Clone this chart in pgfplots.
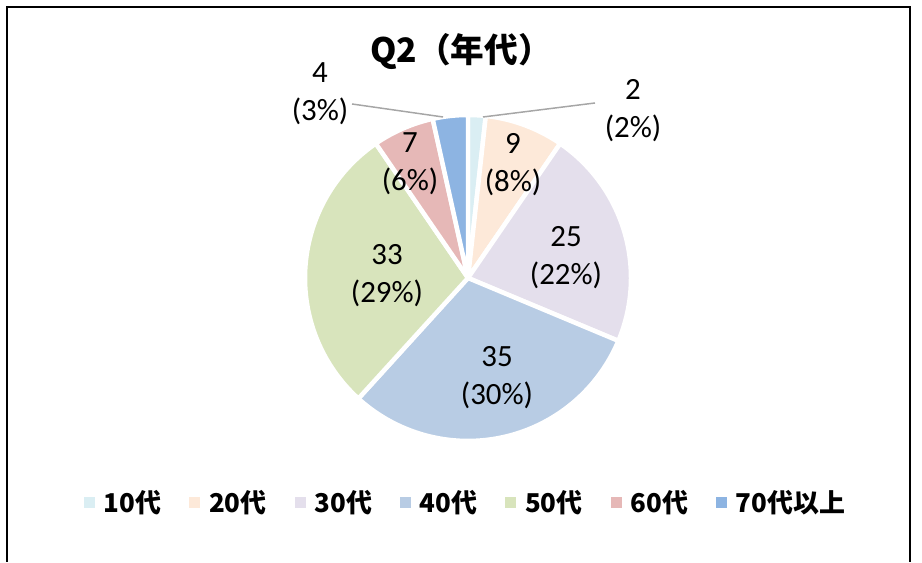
\documentclass[border=0pt]{standalone}
\usepackage{pgfplots}
\pgfplotsset{compat=1.18}
\usepackage{fontspec}
\setmainfont{Carlito}
\newfontfamily\cjk{Noto Sans CJK JP}
\definecolor{c1}{HTML}{DAEEF3}
\definecolor{c2}{HTML}{FDE9D9}
\definecolor{c3}{HTML}{E4DFEC}
\definecolor{c4}{HTML}{B8CCE4}
\definecolor{c5}{HTML}{D8E4BC}
\definecolor{c6}{HTML}{E6B8B7}
\definecolor{c7}{HTML}{8DB4E2}
\definecolor{leader}{HTML}{A6A6A6}
\begin{document}
\begin{tikzpicture}
% data values: 10代 2, 20代 9, 30代 25, 40代 35, 50代 33, 60代 7, 70代以上 4
\pgfmathsetmacro\T{2+9+25+35+33+7+4}
\pgfmathsetmacro\aA{90}
\pgfmathsetmacro\aB{\aA-360*2/\T}
\pgfmathsetmacro\aC{\aB-360*9/\T}
\pgfmathsetmacro\aD{\aC-360*25/\T}
\pgfmathsetmacro\aE{\aD-360*35/\T}
\pgfmathsetmacro\aF{\aE-360*33/\T}
\pgfmathsetmacro\aG{\aF-360*7/\T}
\pgfmathsetmacro\aH{\aG-360*4/\T}
\def\cx{468}\def\cy{284}\def\R{163}
\begin{axis}[
  scale only axis, width=13cm, height=7.924cm,
  xmin=0, xmax=922, ymin=0, ymax=562,
  hide axis, clip=false,
  legend image code/.code={\fill[#1, draw=none] (0pt,-2.2pt) rectangle (4.4pt,2.2pt);},
  legend style={draw=none, fill=none, legend columns=-1,
    at={(0.5087,0.105)}, anchor=center,
    font=\cjk\bfseries\fontsize{10.4}{12}\selectfont,
    nodes={inner xsep=3.5pt},
    /tikz/every even column/.append style={column sep=7.8pt}},
  every axis plot/.append style={line join=round},
]
\path (0,0) rectangle (922,562);
\draw[line width=0.8pt, black] (7,0) -- (7,555) -- (910,555) -- (910,0);
\addplot[fill=c1, draw=white, line width=1.8pt, domain=\aB:\aA, samples=30, forget plot] ({\cx+\R*cos(x)},{\cy+\R*sin(x)}) -- (\cx,\cy) -- cycle;
\addplot[fill=c2, draw=white, line width=1.8pt, domain=\aC:\aB, samples=40, forget plot] ({\cx+\R*cos(x)},{\cy+\R*sin(x)}) -- (\cx,\cy) -- cycle;
\addplot[fill=c3, draw=white, line width=1.8pt, domain=\aD:\aC, samples=60, forget plot] ({\cx+\R*cos(x)},{\cy+\R*sin(x)}) -- (\cx,\cy) -- cycle;
\addplot[fill=c4, draw=white, line width=1.8pt, domain=\aE:\aD, samples=80, forget plot] ({\cx+\R*cos(x)},{\cy+\R*sin(x)}) -- (\cx,\cy) -- cycle;
\addplot[fill=c5, draw=white, line width=1.8pt, domain=\aF:\aE, samples=80, forget plot] ({\cx+\R*cos(x)},{\cy+\R*sin(x)}) -- (\cx,\cy) -- cycle;
\addplot[fill=c6, draw=white, line width=1.8pt, domain=\aG:\aF, samples=40, forget plot] ({\cx+\R*cos(x)},{\cy+\R*sin(x)}) -- (\cx,\cy) -- cycle;
\addplot[fill=c7, draw=white, line width=1.8pt, domain=\aH:\aG, samples=30, forget plot] ({\cx+\R*cos(x)},{\cy+\R*sin(x)}) -- (\cx,\cy) -- cycle;
\addlegendimage{fill=c1}\addlegendentry{10代}
\addlegendimage{fill=c2}\addlegendentry{20代}
\addlegendimage{fill=c3}\addlegendentry{30代}
\addlegendimage{fill=c4}\addlegendentry{40代}
\addlegendimage{fill=c5}\addlegendentry{50代}
\addlegendimage{fill=c6}\addlegendentry{60代}
\addlegendimage{fill=c7}\addlegendentry{70代以上}
% leader lines
\draw[leader, line width=0.6pt] (595,459) -- (483,445);
\draw[leader, line width=0.6pt] (352,458) -- (443,445);
% title
\node[font=\cjk\bfseries\fontsize{13.5}{15}\selectfont] at (461,510) {Q2（年代）};
% data labels
\begin{scope}[every node/.style={align=center, font=\fontsize{12.4}{15.2}\selectfont}]
\node at (633,451) {2\\(2\%)};
\node at (320,468) {4\\(3\%)};
\node at (513,397) {9\\(8\%)};
\node at (566,304) {25\\(22\%)};
\node at (497,184) {35\\(30\%)};
\node at (387,286) {33\\(29\%)};
\node at (410,398) {7\\(6\%)};
\end{scope}
\end{axis}
\end{tikzpicture}
\end{document}
